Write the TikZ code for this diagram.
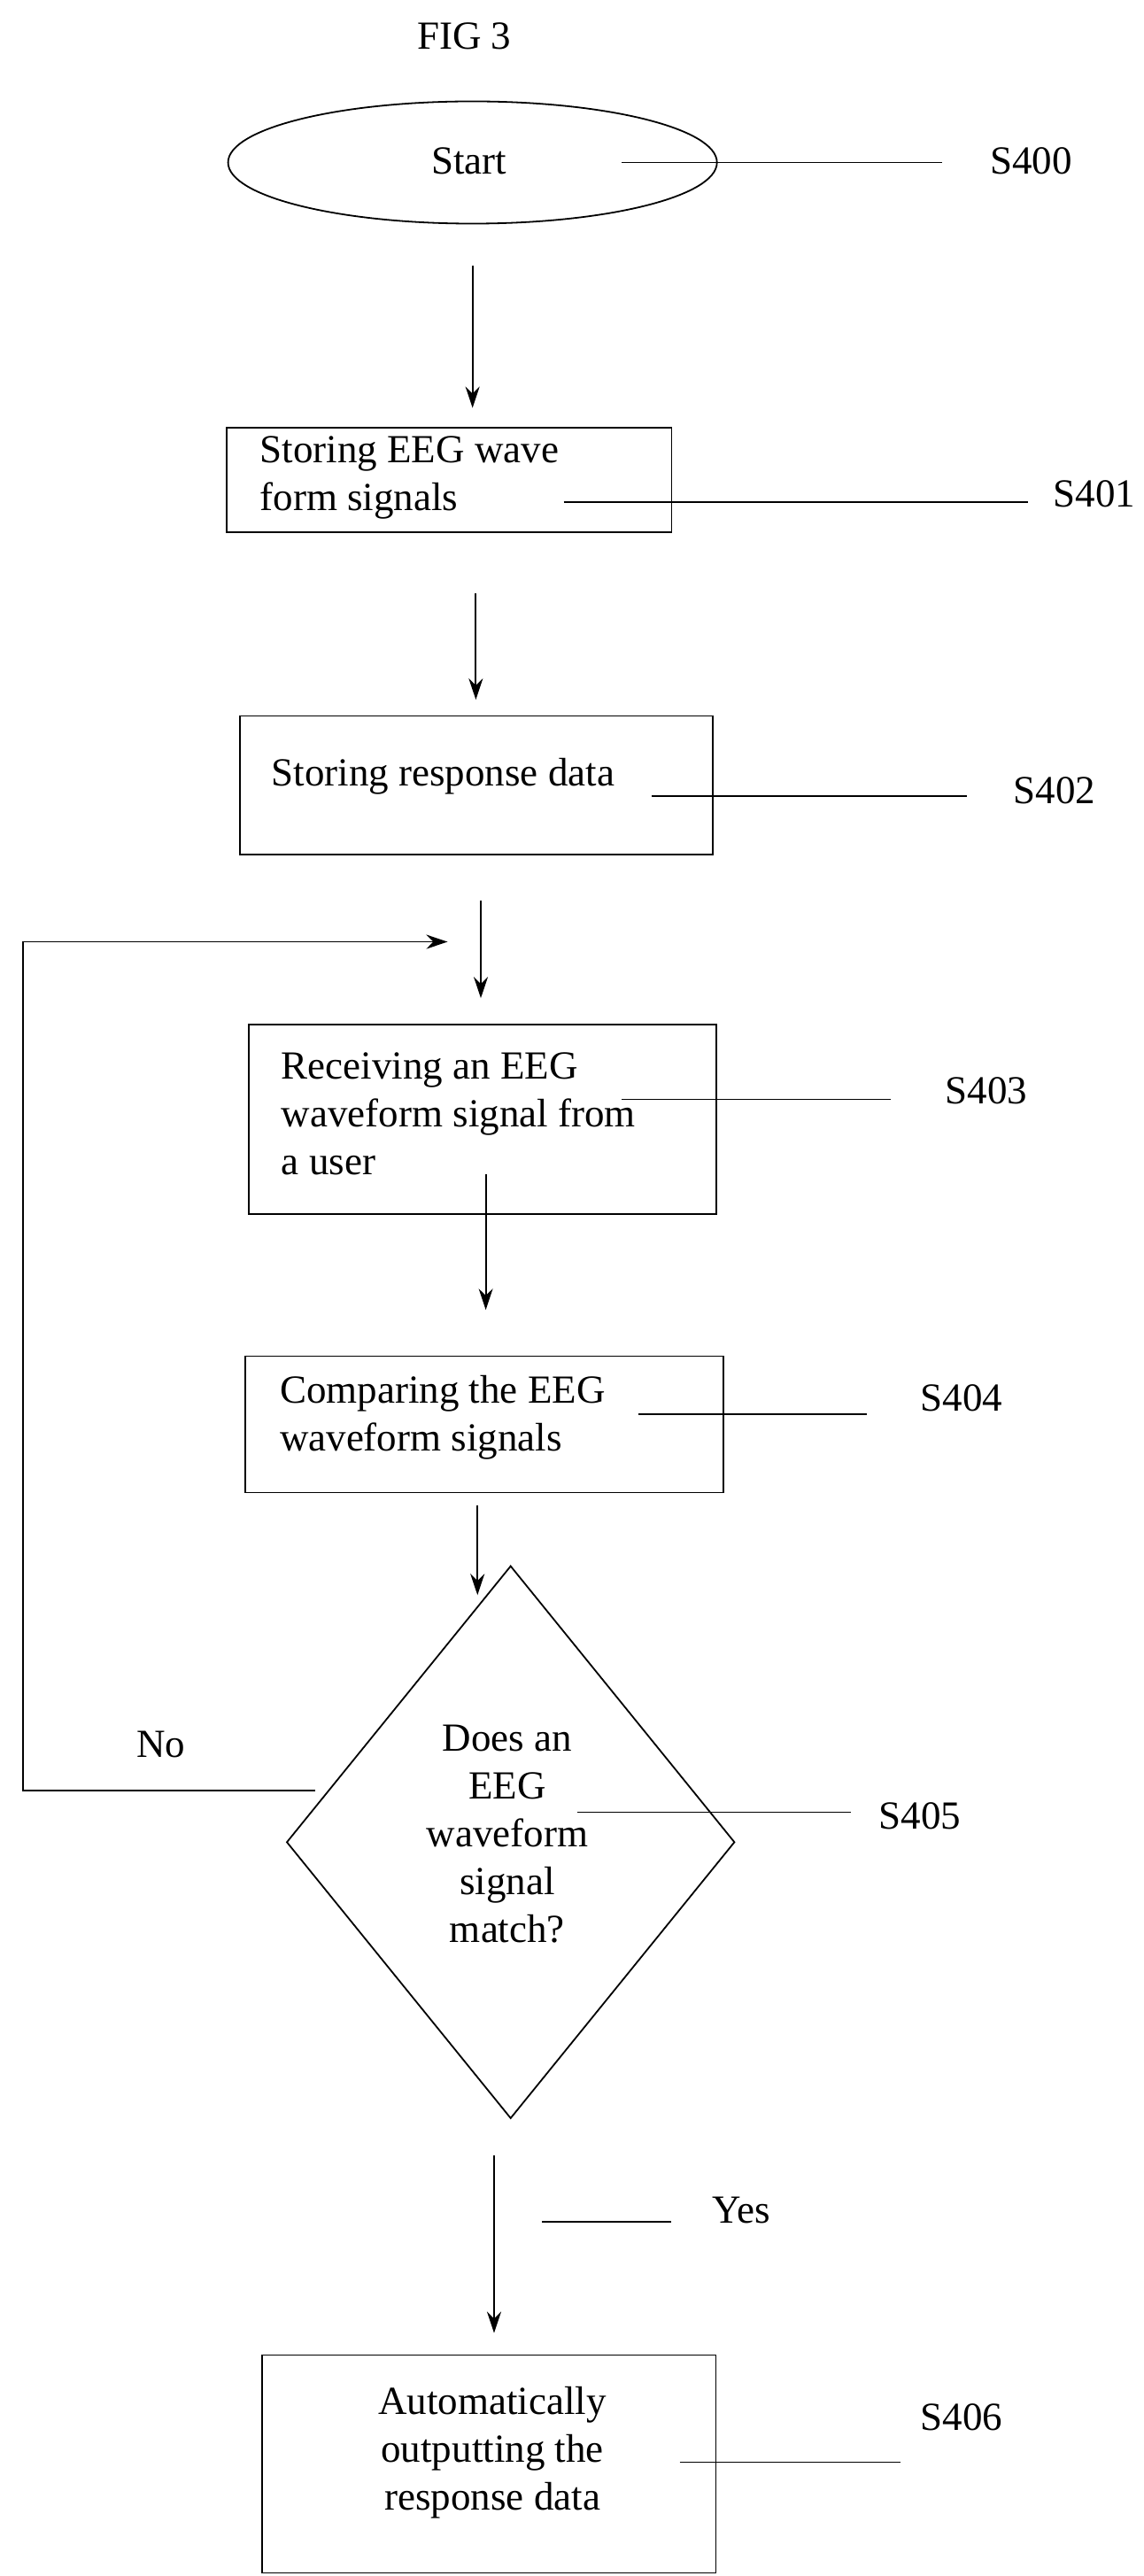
\documentclass[tikz,border=0pt]{standalone}
\usepackage{fontspec}
\setmainfont{Liberation Serif}
\usetikzlibrary{arrows.meta,shapes.geometric}
\begin{document}
\begin{tikzpicture}[x=0.936pt,y=-0.936pt,
  every node/.style={font=\fontsize{22.5}{27}\selectfont},
  box/.style={draw,line width=0.9pt,inner sep=0pt},
  ln/.style={line width=0.9pt},
  arr/.style={line width=0.9pt,-{Stealth[length=12pt,width=8pt]}}]
\useasboundingbox (0,0) rectangle (690,1553.6);
\node (fig) at (280,22) {FIG 3};
% start
\node[box,ellipse,minimum width=276pt,minimum height=69pt] (s0) at (285,98) {};
\node (t0) at (283,97) {Start};
\coordinate (a0) at (375,98); \coordinate (b0) at (568,98);
\draw[ln] (a0) -- (b0); \node (l0) at (622,97) {S400};
\coordinate (p0) at (285,160); \coordinate (q0) at (285,246);
\draw[arr] (p0) -- (q0);
% box1
\node[box,minimum width=251pt,minimum height=59pt] (b1) at (271,289.5) {};
\node[align=left,anchor=west] (t1) at (153,288) {Storing EEG wave\\form signals};
\coordinate (a1) at (340,303); \coordinate (c1) at (620,303);
\draw[ln] (a1) -- (c1); \node (l1) at (660,298) {S401};
\coordinate (p1) at (287,358); \coordinate (q1) at (287,422);
\draw[arr] (p1) -- (q1);
% box2
\node[box,minimum width=267pt,minimum height=78pt] (b2) at (287.5,473.5) {};
\node[anchor=west] (t2) at (160,468) {Storing response data};
\coordinate (a2) at (393,480); \coordinate (c2) at (583,480);
\draw[ln] (a2) -- (c2); \node (l2) at (636,477) {S402};
\coordinate (p2) at (290,543); \coordinate (q2) at (290,602);
\draw[arr] (p2) -- (q2);
% box3
\node[box,minimum width=264pt,minimum height=107pt] (b3) at (291,675) {};
\node[align=left,anchor=west] (t3) at (166,672) {Receiving an EEG\\waveform signal from\\a user};
\coordinate (a3) at (375,663); \coordinate (c3) at (537,663);
\draw[ln] (a3) -- (c3); \node (l3) at (595,658) {S403};
\coordinate (p3) at (293,708); \coordinate (q3) at (293,790);
\draw[arr] (p3) -- (q3);
% box4
\node[box,minimum width=270pt,minimum height=77pt] (b4) at (292,859) {};
\node[align=left,anchor=west] (t4) at (165,855) {Comparing the EEG\\waveform signals};
\coordinate (a4) at (385,853); \coordinate (c4) at (523,853);
\draw[ln] (a4) -- (c4); \node (l4) at (580,843) {S404};
\coordinate (p4) at (288,908); \coordinate (q4) at (288,962);
\draw[arr] (p4) -- (q4);
% diamond
\node[box,diamond,minimum width=253pt,minimum height=312pt] (d) at (308,1111) {};
\node[align=center] (t5) at (306,1106) {Does an\\EEG\\waveform\\signal\\match?};
\coordinate (a5) at (348,1093); \coordinate (c5) at (513,1093);
\draw[ln] (a5) -- (c5); \node (l5) at (555,1095) {S405};
% feedback
\coordinate (f0) at (190,1080); \coordinate (f1) at (14,1080);
\coordinate (f2) at (14,568); \coordinate (f3) at (270,568);
\draw[arr] (f0) -- (f1) -- (f2) -- (f3);
\node (no) at (97,1052) {No};
\coordinate (p5) at (298,1300); \coordinate (q5) at (298,1407);
\draw[arr] (p5) -- (q5);
\coordinate (y0) at (327,1340); \coordinate (y1) at (405,1340);
\draw[ln] (y0) -- (y1); \node (yes) at (447,1333) {Yes};
% box5
\node[box,minimum width=256pt,minimum height=123pt] (b5) at (295,1486) {};
\node[align=center] (t6) at (297,1479) {Automatically\\outputting the\\response data};
\coordinate (a6) at (410,1485); \coordinate (c6) at (543,1485);
\draw[ln] (a6) -- (c6); \node (l6) at (580,1458) {S406};
\end{tikzpicture}
\end{document}
